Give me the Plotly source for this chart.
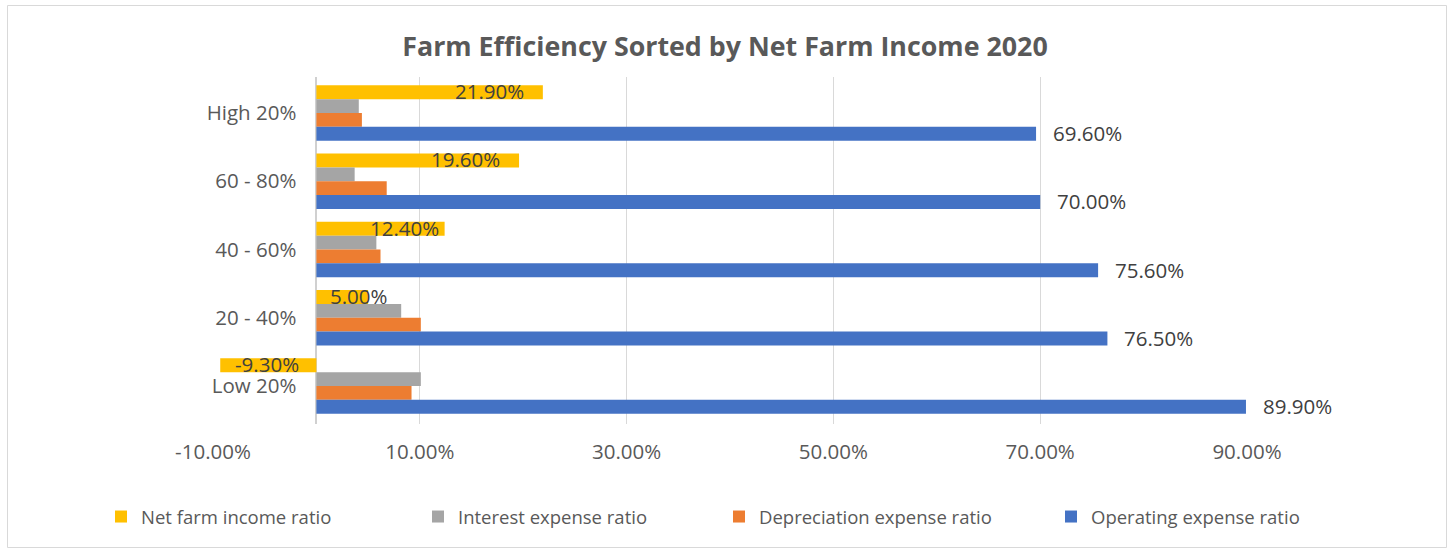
import plotly.graph_objects as go

# Farm income groups, top to bottom
groups = ["High 20%", "60 - 80%", "40 - 60%", "20 - 40%", "Low 20%"]

net_farm_income = [21.9, 19.6, 12.4, 5.0, -9.3]
interest_expense = [4.1, 3.7, 5.8, 8.2, 10.1]
depreciation_expense = [4.4, 6.8, 6.2, 10.1, 9.2]
operating_expense = [69.6, 70.0, 75.6, 76.5, 89.9]

series_names = [
    "Net farm income ratio",
    "Interest expense ratio",
    "Depreciation expense ratio",
    "Operating expense ratio",
]
series_values = [net_farm_income, interest_expense, depreciation_expense, operating_expense]
series_colors = ["#FFC000", "#A5A5A5", "#ED7D31", "#4472C4"]

x_ticks = [-10, 10, 30, 50, 70, 90]

W, H = 1452, 550
ML, MR, MT, MB = 213, 205, 77, 126
FONT = "Open Sans"
TEXT = "#595959"

fig = go.Figure()
legend_ids = ["legend", "legend2", "legend3", "legend4"]
for name, vals, col, lg in zip(series_names, series_values, series_colors, legend_ids):
    fig.add_trace(go.Bar(
        y=groups, x=vals, name=name, orientation="h",
        marker=dict(color=col, line=dict(width=0)),
        legend=lg,
    ))

# value labels on the net farm income bars (pixel nudges per label)
net_nudge = [-17, -17, -4, 22, 13]
for g, v, dx in zip(groups, net_farm_income, net_nudge):
    fig.add_annotation(
        x=v, y=g, xref="x", yref="y", text=f"{v:.2f}%", showarrow=False,
        xanchor="right" if v >= 0 else "left", xshift=dx, yshift=22,
        font=dict(family=FONT, size=20.5, color="#404040"),
    )

# value labels beyond the operating expense bars
for g, v in zip(groups, operating_expense):
    fig.add_annotation(
        x=v, y=g, xref="x", yref="y", text=f"{v:.2f}%", showarrow=False,
        xanchor="left", xshift=15, yshift=-20,
        font=dict(family=FONT, size=20.5, color="#404040"),
    )

pw = W - ML - MR
ph = H - MT - MB


def px_to_paper_x(px):
    return (px - ML) / pw


def px_to_paper_y(py):
    return (H - MB - py) / ph


# separate legend boxes so each entry sits at its own spot
legend_x_px = [101, 418, 719, 1051]
legend_layout = {}
for lg, xpx in zip(legend_ids, legend_x_px):
    legend_layout[lg] = dict(
        x=px_to_paper_x(xpx), xanchor="left",
        y=px_to_paper_y(517), yanchor="middle",
        orientation="h", bgcolor="rgba(0,0,0,0)",
        font=dict(family=FONT, size=18.5, color=TEXT),
    )

# outer chart border
fig.add_shape(
    type="rect", xref="paper", yref="paper",
    x0=px_to_paper_x(7.5), x1=px_to_paper_x(1446.5),
    y0=px_to_paper_y(547.5), y1=px_to_paper_y(5.5),
    line=dict(color="#D9D9D9", width=1), fillcolor="rgba(0,0,0,0)", layer="below",
)

fig.update_layout(
    width=W, height=H,
    margin=dict(l=ML, r=MR, t=MT, b=MB),
    paper_bgcolor="white", plot_bgcolor="white",
    barmode="group", bargap=0.19, bargroupgap=0,
    title=dict(
        text="<b>Farm Efficiency Sorted by Net Farm Income 2020</b>",
        x=px_to_paper_x(725), xref="paper", xanchor="center",
        y=1 - 47 / H, yanchor="middle",
        font=dict(family=FONT, size=26.8, color=TEXT),
    ),
    xaxis=dict(
        range=[-10, 90], tickvals=x_ticks,
        ticktext=[f"{t:.2f}%" for t in x_ticks],
        showgrid=True, gridcolor="#D9D9D9", gridwidth=1,
        zeroline=True, zerolinecolor="#D0D0D0", zerolinewidth=1.5,
        showline=False, ticks="", ticklabelstandoff=13,
        tickfont=dict(family=FONT, size=20.5, color=TEXT),
        fixedrange=True,
    ),
    yaxis=dict(
        autorange="reversed", type="category",
        anchor="free", position=0.1,
        showgrid=False, showline=False, ticks="",
        ticklabelstandoff=20,
        tickfont=dict(family=FONT, size=20.5, color=TEXT),
    ),
    showlegend=True,
    **legend_layout,
)

fig.write_html("out.html")
